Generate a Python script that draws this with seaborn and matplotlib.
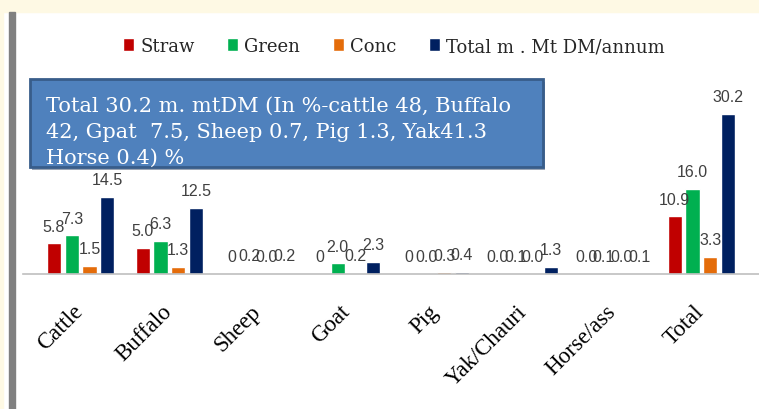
import pandas as pd
import seaborn as sns
import matplotlib.pyplot as plt
from matplotlib.patches import Rectangle, FancyBboxPatch
from matplotlib.transforms import ScaledTranslation

animals = ['Cattle', 'Buffalo', 'Sheep', 'Goat', 'Pig', 'Yak/Chauri', 'Horse/ass', 'Total']
series = ['Straw', 'Green', 'Conc', 'Total m . Mt DM/annum']
straw = [5.8, 5.0, 0, 0, 0, 0.02, 0.02, 10.9]
green = [7.3, 6.3, 0.2, 2.0, 0.02, 0.1, 0.1, 16.0]
conc = [1.5, 1.3, 0.02, 0.2, 0.3, 0.02, 0.02, 3.3]
total = [14.5, 12.5, 0.2, 2.3, 0.4, 1.3, 0.1, 30.2]
colors = ['#c00000', '#00b050', '#e46c0a', '#002060']
note = ('Total 30.2 m. mtDM (In %-cattle 48, Buffalo\n'
        '42, Gpat  7.5, Sheep 0.7, Pig 1.3, Yak41.3\n'
        'Horse 0.4) %')

df = pd.DataFrame({
    'animal': animals * 4,
    'series': [s for s in series for _ in animals],
    'value': straw + green + conc + total,
})

sns.set_style('white')
fig = plt.figure(figsize=(7.59, 4.10), dpi=100)

# page background: cream strip on top / left, grey rule at left
fig.patches.append(Rectangle((0, 1 - 13 / 410), 1, 13 / 410, transform=fig.transFigure,
                             color='#fef9e4', zorder=0))
fig.patches.append(Rectangle((0, 0), 3 / 759, 1, transform=fig.transFigure,
                             color='#fef9e4', zorder=0))
fig.patches.append(Rectangle((9 / 759, 0), 6 / 759, 1 - 13 / 410, transform=fig.transFigure,
                             color='#808080', zorder=0))

ax = fig.add_axes([23 / 759, 135 / 410, 736 / 759, 32 * 5.3 / 410])
ax.patch.set_alpha(0)
sns.barplot(data=df, x='animal', y='value', hue='series', palette=colors,
            width=0.8, gap=0.2, saturation=1, ax=ax)

for cont in ax.containers:
    labels = ['0' if v == 0 else f'{v:.1f}' for v in cont.datavalues]
    ax.bar_label(cont, labels=labels, padding=7, fontsize=11.5,
                 family='Liberation Sans', color='#404040')

ax.set_xlim(-0.65, 7.65)
ax.set_ylim(0, 32)
ax.set_xlabel('')
ax.set_ylabel('')
ax.set_yticks([])
for side in ['left', 'right', 'top']:
    ax.spines[side].set_visible(False)
ax.spines['bottom'].set_color('#bfbfbf')
ax.spines['bottom'].set_linewidth(1.2)
ax.tick_params(axis='x', length=0, pad=19)
shift = ScaledTranslation(5 / 72, 0, fig.dpi_scale_trans)
for lab in ax.get_xticklabels():
    lab.set_rotation(45)
    lab.set_ha('right')
    lab.set_fontsize(16.5)
    lab.set_family('Liberation Serif')
    lab.set_color('black')
    lab.set_transform(lab.get_transform() + shift)

handles, names = ax.get_legend_handles_labels()
ax.legend(handles, names, loc='center', bbox_to_anchor=(394 / 759, 1 - 47 / 410),
          bbox_transform=fig.transFigure, ncol=4, frameon=False,
          prop={'family': 'DejaVu Serif', 'size': 13},
          handlelength=0.6, handleheight=0.7, handletextpad=0.35, columnspacing=1.8)

# annotation box over the plot (with a faint drop shadow)
fig.patches.append(Rectangle((32 / 759, 1 - 171 / 410), 513 / 759, 88 / 410,
                             transform=fig.transFigure, facecolor='#9aa5b5',
                             edgecolor='none', zorder=4))
fig.patches.append(FancyBboxPatch((30 / 759, 1 - 168 / 410), 513 / 759, 88 / 410,
                                  boxstyle='square,pad=0', transform=fig.transFigure,
                                  facecolor='#4f81bd', edgecolor='#385d8a', linewidth=2,
                                  zorder=5))
fig.text(46 / 759, 1 - 97 / 410, note, ha='left', va='top', color='white',
         family='DejaVu Serif', fontsize=15, linespacing=1.45, zorder=6)

fig.savefig('out.png', dpi=100)
